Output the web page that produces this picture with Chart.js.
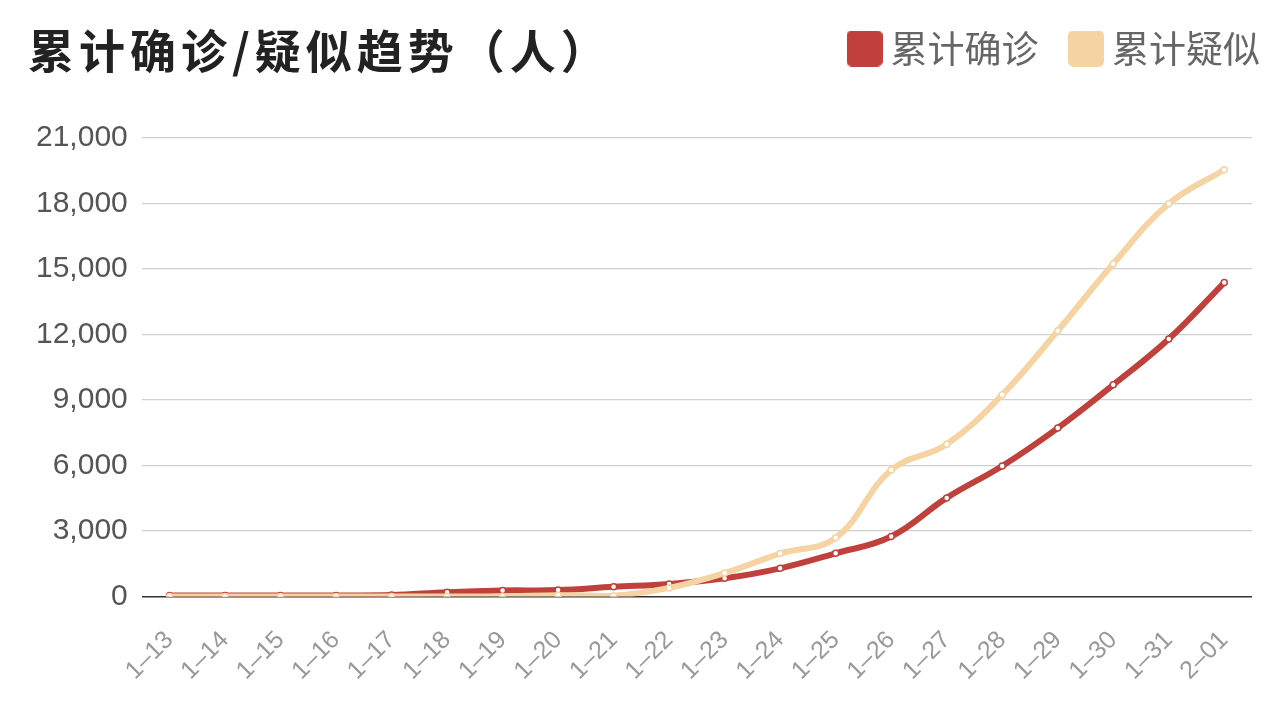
<!DOCTYPE html>
<html>
<head>
<meta charset="utf-8">
<script src="https://cdn.jsdelivr.net/npm/chart.js@4"></script>
<style>
html,body{margin:0;padding:0;background:#fff;}
#wrap{position:relative;width:1280px;height:718px;}
#title{position:absolute;left:28px;top:15px;font:bold 46px "Noto Sans CJK SC","Noto Sans",sans-serif;color:#222;letter-spacing:5px;}
</style>
</head>
<body>
<div id="wrap">
<div id="title">累计确诊/疑似趋势（人）</div>
<canvas id="c" width="1280" height="718"></canvas>
</div>
<script>
const categories = ["1-13","1-14","1-15","1-16","1-17","1-18","1-19","1-20","1-21","1-22","1-23","1-24","1-25","1-26","1-27","1-28","1-29","1-30","1-31","2-01"];
const confirmed = [41,41,41,45,62,198,275,291,440,571,830,1287,1975,2744,4515,5974,7711,9692,11791,14380];
const suspected = [0,0,0,0,0,0,0,54,37,393,1072,1965,2684,5794,6973,9239,12167,15238,17988,19544];
const yTicks = [0,3000,6000,9000,12000,15000,18000,21000];
const seriesNames = ["累计确诊","累计疑似"];

const RED = "#c0403b";
const TAN = "#f6d3a3";

function swatch(color) {
  const c = document.createElement("canvas");
  c.width = 36; c.height = 36;
  const g = c.getContext("2d");
  g.fillStyle = color;
  g.beginPath();
  g.roundRect(0, 0, 36, 36, 5);
  g.fill();
  return c;
}

const legendSpace = {
  id: "legendSpace",
  beforeLayout(chart) {
    const lg = chart.legend;
    if (lg && !lg._patched) {
      const orig = lg.fit;
      lg.fit = function () { orig.call(this); this.height += 32; };
      lg._patched = true;
    }
  },
  afterLayout(chart) {
    const lg = chart.legend;
    lg.left += 48; lg.right += 48;
    lg.top -= 29; lg.bottom -= 29;
  }
};

new Chart(document.getElementById("c"), {
  type: "line",
  data: {
    labels: categories.map(s => s.replace("-", "–")),
    datasets: [
      {label: seriesNames[0], data: confirmed, borderColor: RED, backgroundColor: RED,
       borderWidth: 6, tension: 0.4, pointRadius: 3, pointBorderWidth: 1.5,
       pointBackgroundColor: "#fff", pointBorderColor: RED, order: 2},
      {label: seriesNames[1], data: suspected, borderColor: TAN, backgroundColor: TAN,
       borderWidth: 6, tension: 0.4, pointRadius: 3, pointBorderWidth: 1.5,
       pointBackgroundColor: "#fff", pointBorderColor: TAN, order: 1}
    ]
  },
  plugins: [legendSpace],
  options: {
    responsive: false,
    animation: false,
    devicePixelRatio: 1,
    layout: {padding: {left: 22, right: 28, top: 19, bottom: 3}},
    plugins: {
      title: {display: false},
      tooltip: {enabled: false},
      legend: {
        position: "top", align: "end",
        labels: {
          usePointStyle: true, pointStyleWidth: 15, boxHeight: 36,
          color: "#666", padding: 40,
          font: {size: 37, family: "'Noto Sans CJK SC', 'Noto Sans', sans-serif"},
          generateLabels(chart) {
            return chart.data.datasets.map((d, i) => ({
              text: d.label, pointStyle: swatch(d.borderColor),
              fillStyle: d.borderColor, strokeStyle: d.borderColor,
              lineWidth: 0, datasetIndex: i, hidden: false, fontColor: "#666"
            }));
          }
        }
      }
    },
    scales: {
      x: {
        offset: true,
        grid: {display: false, drawTicks: false},
        border: {display: false},
        ticks: {color: "#999", maxRotation: 45, minRotation: 45, padding: 29,
                font: {size: 25, family: "'Liberation Sans', Arial, sans-serif"}}
      },
      y: {
        min: 0, max: 21000,
        afterBuildTicks(axis) { axis.ticks = yTicks.map(v => ({value: v})); },
        grid: {
          drawTicks: false,
          color: ctx => ctx.tick && ctx.tick.value === 0 ? "#333" : "#d0d0d0",
          lineWidth: ctx => ctx.tick && ctx.tick.value === 0 ? 1.5 : 1.2
        },
        border: {display: false},
        ticks: {color: "#555", padding: 14,
                font: {size: 30, family: "'Liberation Sans', Arial, sans-serif"},
                callback: v => v.toLocaleString("en-US")}
      }
    }
  }
});
</script>
</body>
</html>
